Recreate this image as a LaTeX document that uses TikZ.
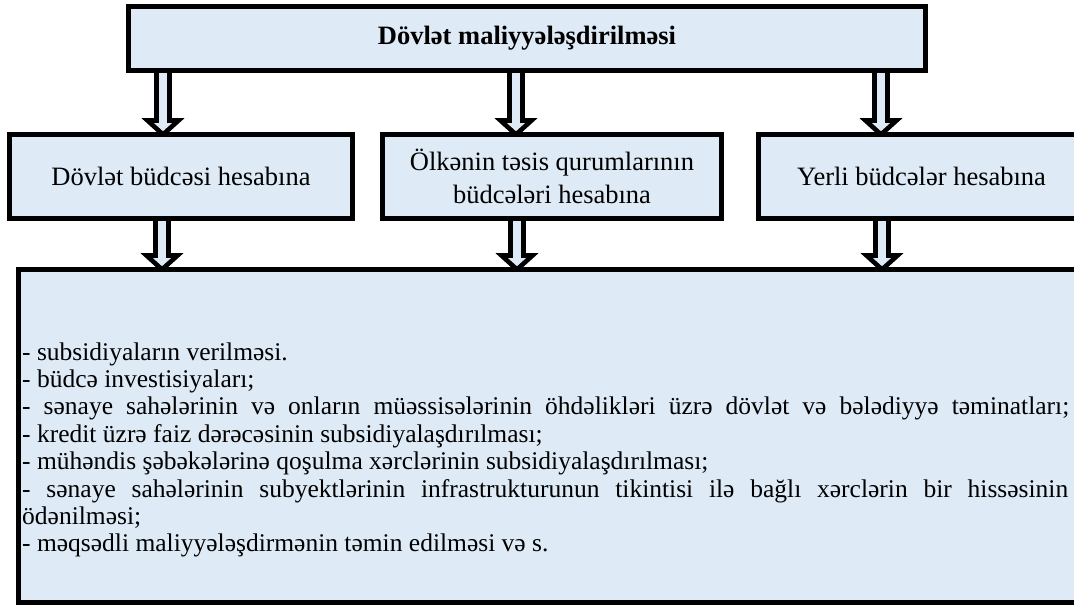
\documentclass[tikz,border=0pt]{standalone}
\usepackage{fontspec}
\setmainfont{LiberationSerif}[Extension=.ttf, UprightFont=*-Regular, BoldFont=*-Bold, ItalicFont=*-Italic, BoldItalicFont=*-BoldItalic]
\usetikzlibrary{calc,backgrounds}
\definecolor{boxblue}{RGB}{222,234,246}
\tikzset{
  box/.style={draw=black, line width=5pt, fill=boxblue, rectangle, outer sep=0pt,
    inner sep=0pt, anchor=north west, align=center,
    font=\fontsize{26.5}{33}\selectfont},
  arrowst/.style={draw=black, line width=4.6pt, fill=boxblue, miter limit=10},
  listline/.style={anchor=base west, inner sep=0pt, font=\fontsize{25.5}{27.4}\selectfont},
}
\newcommand\flowarr[3]{%
  \filldraw[arrowst] let \p1=(#2.south), \p2=(#3.north) in
    (#1pt-6.5pt,\y1) -- (#1pt-6.5pt,\y2+14pt) -- (#1pt-15.5pt,\y2+14pt)
    -- (#1pt,\y2) -- (#1pt+15.5pt,\y2+14pt) -- (#1pt+6.5pt,\y2+14pt)
    -- (#1pt+6.5pt,\y1);}
\begin{document}
\begin{tikzpicture}[x=1pt,y=-1pt]
\clip (0,0) rectangle (1074,608);
% boxes
\node[box, minimum width=797pt, minimum height=64pt] (top) at (128.5,6.5)
  {\bfseries Dövlət maliyyələşdirilməsi};
\node[box, minimum width=343pt, minimum height=84pt] (b1) at (9.5,134.5)
  {Dövlət büdcəsi hesabına};
\node[box, minimum width=339pt, minimum height=84pt] (b2) at (382.5,134.5)
  {Ölkənin təsis qurumlarının\\büdcələri hesabına};
\node[box, minimum width=326pt, minimum height=84pt] (b3) at (758.5,134.5)
  {Yerli büdcələr hesabına};
\node[box, minimum width=1066pt, minimum height=333pt] (big) at (18.5,269.5) {};
% arrows
\begin{scope}[on background layer]
\fill[white] (0,0) rectangle (1074,608);
\flowarr{163}{top}{b1}
\flowarr{516}{top}{b2}
\flowarr{881}{top}{b3}
\flowarr{162}{b1}{big}
\flowarr{517}{b2}{big}
\flowarr{882}{b3}{big}
\end{scope}
% list
\node[listline] (l1) at (22,360) {- subsidiyaların verilməsi.};
\node[listline] (l2) at (22,387.4) {- büdcə investisiyaları;};
\node[listline] (l3) at (22,414.8) {\makebox[1047pt][s]{- sənaye sahələrinin və onların müəssisələrinin öhdəlikləri üzrə dövlət və bələdiyyə təminatları;}};
\node[listline] (l4) at (22,442.2) {- kredit üzrə faiz dərəcəsinin subsidiyalaşdırılması;};
\node[listline] (l5) at (22,469.6) {- mühəndis şəbəkələrinə qoşulma xərclərinin subsidiyalaşdırılması;};
\node[listline] (l6) at (22,497) {\makebox[1046pt][s]{- sənaye sahələrinin subyektlərinin infrastrukturunun tikintisi ilə bağlı xərclərin bir hissəsinin}};
\node[listline] (l7) at (22,524.4) {ödənilməsi;};
\node[listline] (l8) at (22,551.8) {- məqsədli maliyyələşdirmənin təmin edilməsi və s.};
\end{tikzpicture}
\end{document}
